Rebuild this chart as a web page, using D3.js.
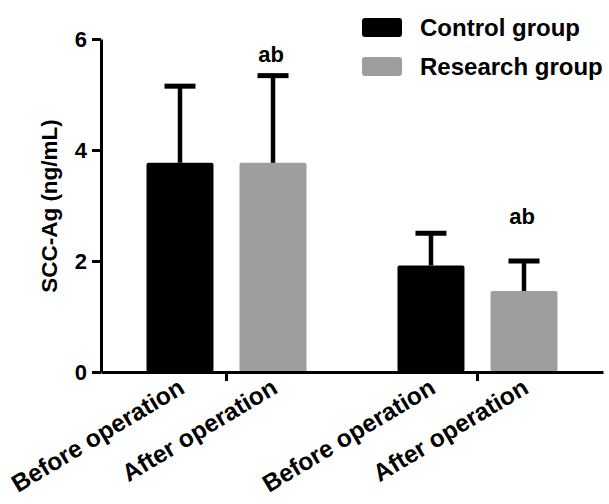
<!DOCTYPE html>
<html>
<head>
<meta charset="utf-8">
<script src="https://cdn.jsdelivr.net/npm/d3@7"></script>
<style>
  body { margin: 0; background: #fff; }
  text { font-family: "Liberation Sans", Arial, sans-serif; font-weight: bold; }
</style>
</head>
<body>
<div id="chart"></div>
<script>
// Data
var groups = ["pre", "post"];
var series = ["Control group", "Research group"];
var barLabels = ["Before operation", "After operation"];
var controlMean = [3.77, 1.92];
var controlSD = [1.38, 0.58];
var researchMean = [3.77, 1.46];
var researchSD = [1.57, 0.54];
// "ab" annotation heights (data units) per group, above the research bar
var markText = ["ab", "ab"];
var markLevel = [5.59, 2.67];
var yTicks = [0, 2, 4, 6];

var colors = ["#000000", "#9e9ea0"];

var svgWidth = 609;
var svgHeight = 504;

var svg = d3.select("#chart")
  .append("svg")
  .attr("width", svgWidth)
  .attr("height", svgHeight);

// scales
var x0 = d3.scaleBand()
  .domain(groups)
  .range([101, 603])
  .padding(0);

var x1 = d3.scaleBand()
  .domain(series)
  .range([-80, 80])
  .paddingInner(0.28);

var y = d3.scaleLinear()
  .domain([0, 6])
  .range([372, 39]);

// table for drawing
var rows = [];
groups.forEach(function(g, i) {
  rows.push({ group: g, series: series[0], mean: controlMean[i], sd: controlSD[i], label: barLabels[0], color: colors[0] });
  rows.push({ group: g, series: series[1], mean: researchMean[i], sd: researchSD[i], label: barLabels[1], color: colors[1] });
});

function cx(d) {
  return x0(d.group) + x0.bandwidth() / 2 + x1(d.series) + x1.bandwidth() / 2;
}

// bars
svg.selectAll("rect.bar")
  .data(rows)
  .enter()
  .append("rect")
  .attr("class", "bar")
  .attr("x", d => x0(d.group) + x0.bandwidth() / 2 + x1(d.series))
  .attr("y", d => y(d.mean))
  .attr("width", x1.bandwidth())
  .attr("height", d => y(0) - y(d.mean))
  .attr("rx", 2)
  .attr("fill", d => d.color);

// error bars (upper only)
var capW = 31;
svg.selectAll("line.err")
  .data(rows)
  .enter()
  .append("line")
  .attr("x1", cx)
  .attr("x2", cx)
  .attr("y1", d => y(d.mean))
  .attr("y2", d => y(d.mean + d.sd))
  .attr("stroke", "#000")
  .attr("stroke-width", 4.5);

svg.selectAll("line.cap")
  .data(rows)
  .enter()
  .append("line")
  .attr("x1", d => cx(d) - capW / 2)
  .attr("x2", d => cx(d) + capW / 2)
  .attr("y1", d => y(d.mean + d.sd))
  .attr("y2", d => y(d.mean + d.sd))
  .attr("stroke", "#000")
  .attr("stroke-width", 5);

// "ab" marks
svg.selectAll("text.mark")
  .data(groups)
  .enter()
  .append("text")
  .attr("x", (g, i) => x0(g) + x0.bandwidth() / 2 + x1(series[1]) + x1.bandwidth() / 2 - 2)
  .attr("y", (g, i) => y(markLevel[i]))
  .attr("text-anchor", "middle")
  .style("font-size", "22px")
  .text((g, i) => markText[i]);

// axes
var leftAxis = d3.axisLeft(y)
  .tickValues(yTicks)
  .tickFormat(d3.format("d"))
  .tickSize(9)
  .tickSizeOuter(0)
  .tickPadding(5);

var yAxis = svg.append("g")
  .attr("transform", "translate(101,0)")
  .call(leftAxis);
yAxis.select(".domain").attr("stroke-width", 3);
yAxis.selectAll(".tick line").attr("stroke-width", 3);
yAxis.selectAll(".tick text")
  .attr("fill", "#000")
  .style("font-size", "22px")
  .style("font-family", "'Liberation Sans', Arial, sans-serif")
  .style("font-weight", "bold");

var bottomAxis = d3.axisBottom(x0)
  .tickSize(9)
  .tickSizeOuter(0)
  .tickFormat("");

var xAxis = svg.append("g")
  .attr("transform", "translate(0,372)")
  .call(bottomAxis);
xAxis.select(".domain").attr("stroke-width", 3);
xAxis.selectAll(".tick line").attr("stroke-width", 3);

// rotated bar labels
svg.selectAll("text.xlab")
  .data(rows)
  .enter()
  .append("text")
  .attr("text-anchor", "end")
  .attr("transform", d => `translate(${cx(d) + 6}, 392) rotate(-31)`)
  .style("font-size", "24.5px")
  .text(d => d.label);

// y axis title
svg.append("text")
  .attr("transform", "translate(57, 206) rotate(-90)")
  .attr("text-anchor", "middle")
  .style("font-size", "22.5px")
  .text("SCC-Ag (ng/mL)");

// legend
var legend = svg.selectAll("g.legend")
  .data(series)
  .enter()
  .append("g")
  .attr("transform", (d, i) => `translate(362, ${18 + i * 39})`);

legend.append("rect")
  .attr("width", 40)
  .attr("height", 19)
  .attr("rx", 3)
  .attr("fill", (d, i) => colors[i]);

legend.append("text")
  .attr("x", 58)
  .attr("y", 18)
  .style("font-size", "24px")
  .text(d => d);
</script>
</body>
</html>
